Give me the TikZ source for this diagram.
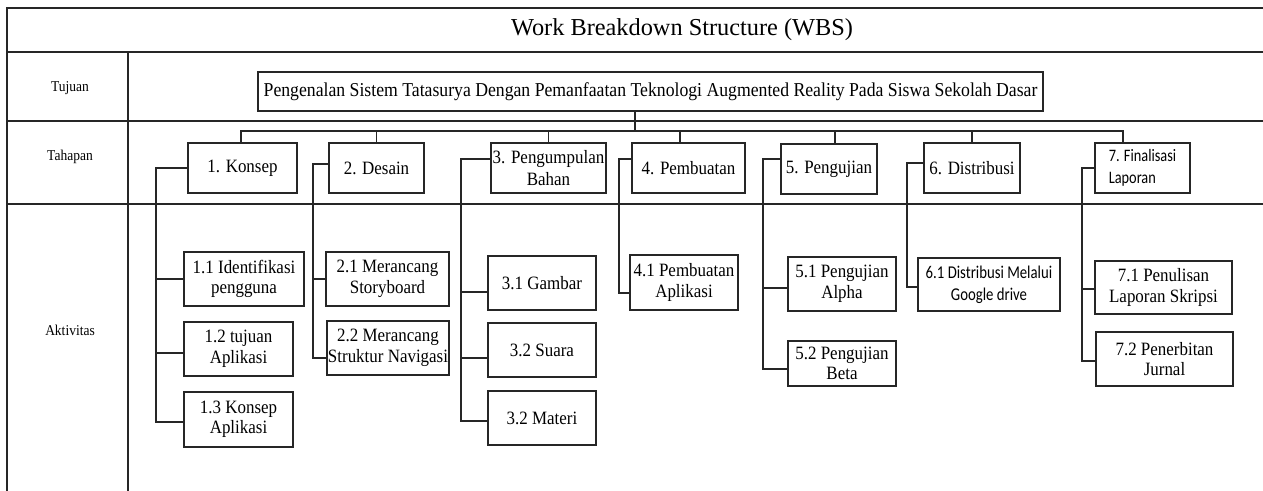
\documentclass[tikz,border=0pt]{standalone}
\usepackage{fontspec}
\setmainfont{Liberation Serif}
\newfontfamily\narrowserif[FakeStretch=0.9]{Liberation Serif}
\newfontfamily\narrowsans[FakeStretch=0.82]{Carlito}
\usetikzlibrary{positioning,calc}

\begin{document}
\begin{tikzpicture}[
  x=0.6pt, y=-0.6pt,
  grid/.style={line width=0.9pt, draw=black!85},
  box/.style 2 args={draw=black!85, line width=0.8pt, minimum width=#1*0.6pt, minimum height=#2*0.6pt, inner sep=0.5pt, align=center},
  phase/.style 2 args={box={#1}{#2}, font=\narrowserif\fontsize{11.3}{13}\selectfont},
  task/.style 2 args={box={#1}{#2}, font=\narrowserif\fontsize{11.3}{12.3}\selectfont},
  rowlabel/.style={font=\narrowserif\fontsize{9}{11}\selectfont},
  link/.style={line width=0.8pt, draw=black!85}
]
\useasboundingbox (0,0) rectangle (1263,491);

% tabel
\draw[grid] (1263,8) -- (7,8) -- (7,491);
\draw[grid] (7,52) -- (1263,52);
\draw[grid] (7,121) -- (1263,121);
\draw[grid] (7,204) -- (1263,204);
\draw[grid] (128,52) -- (128,491);

\node[font=\fontsize{14.6}{16}\selectfont] (title) at (682,30) {Work Breakdown Structure (WBS)};
\node[rowlabel] (lbltujuan) at (70,88) {Tujuan};
\node[rowlabel] (lbltahapan) at (70,157) {Tahapan};
\node[rowlabel] (lblaktivitas) at (70,330) {Aktivitas};

% tujuan
\node[box={785}{39}, font=\narrowserif\fontsize{11.8}{13}\selectfont] (goal) at (650.5,91.5) {Pengenalan Sistem Tatasurya Dengan Pemanfaatan Teknologi Augmented Reality Pada Siswa Sekolah Dasar};

% tahapan
\node[phase={109}{50}] (konsep) at (242.5,168) {1. Konsep};
\node[phase={95}{50}] (desain) at (376.5,168) {2. Desain};
\node[phase={115}{50}] (bahan) at (548.5,168) {3. Pengumpulan\\Bahan};
\node[phase={113}{50}] (pembuatan) at (688.5,168) {4. Pembuatan};
\node[phase={96}{50}] (pengujian) at (829,169) {5. Pengujian};
\node[phase={96}{50}] (distribusi) at (972,168) {6. Distribusi};
\node[phase={95}{50}, font=\narrowsans\fontsize{10.5}{12.8}\selectfont, align=left] (finalisasi) at (1142.5,168) {7. Finalisasi\\Laporan};

% aktivitas
\node[task={120}{54}] (identifikasi) at (244,279) {1.1 Identifikasi\\pengguna};
\node[task={109}{54}] (tujuanapp) at (238.5,349) {1.2 tujuan\\Aplikasi};
\node[task={109}{55}] (konsepapp) at (238.5,419.5) {1.3 Konsep\\Aplikasi};
\node[task={123}{54}] (storyboard) at (387.5,279) {2.1 Merancang\\Storyboard};
\node[task={122}{54}] (navigasi) at (388,348) {2.2 Merancang\\Struktur Navigasi};
\node[task={108}{54}] (gambar) at (542,283) {3.1 Gambar};
\node[task={108}{54}] (suara) at (542,350) {3.2 Suara};
\node[task={108}{54}] (materi) at (542,418) {3.2 Materi};
\node[task={108}{55}] (buatapp) at (684,282.5) {4.1 Pembuatan\\Aplikasi};
\node[task={108}{54}] (alpha) at (842,284) {5.1 Pengujian\\Alpha};
\node[task={108}{45}] (beta) at (842,363.5) {5.2 Pengujian\\Beta};
\node[task={142}{53}, font=\narrowsans\fontsize{10.8}{13}\selectfont] (gdrive) at (989,284.5) {6.1 Distribusi Melalui\\Google drive};
\node[task={137}{53}] (skripsi) at (1163.5,287.5) {7.1 Penulisan\\Laporan Skripsi};
\node[task={137}{54}] (jurnal) at (1164.5,359) {7.2 Penerbitan\\Jurnal};

% tujuan -> tahapan
\coordinate (bus) at (635,131);
\draw[link] (bus) -- (bus |- goal.south);
\draw[link] (konsep.north -| 241,0) |- (bus);
\draw[link] (desain.north) |- (bus);
\draw[link] (bahan.north) |- (bus);
\draw[link] (pembuatan.north -| 680,0) |- (bus);
\draw[link] (pengujian.north -| 835,0) |- (bus);
\draw[link] (distribusi.north) |- (bus);
\draw[link] (finalisasi.north -| 1123,0) |- (bus);

% tahapan -> aktivitas
\coordinate (s1) at (konsep.west -| 156,0);
\draw[link] (konsep.west) -- (s1) |- (identifikasi.west);
\draw[link] (s1) |- ([yshift=-2.4pt]tujuanapp.west);
\draw[link] (s1) |- ([yshift=-1.5pt]konsepapp.west);

\coordinate (s2) at ([yshift=2.4pt]desain.west -| 313,0);
\draw[link] ([yshift=2.4pt]desain.west) -- (s2) |- (storyboard.west);
\draw[link] (s2) |- ([yshift=-6pt]navigasi.west);

\coordinate (s3) at ([yshift=5.4pt]bahan.west -| 461,0);
\draw[link] ([yshift=5.4pt]bahan.west) -- (s3) |- ([yshift=-5.4pt]gambar.west);
\draw[link] (s3) |- ([yshift=-4.8pt]suara.west);
\draw[link] (s3) |- ([yshift=-1.8pt]materi.west);

\coordinate (s4) at ([yshift=5.4pt]pembuatan.west -| 619,0);
\draw[link] ([yshift=5.4pt]pembuatan.west) -- (s4) |- ([yshift=-6.3pt]buatapp.west);

\coordinate (s5) at ([yshift=6pt]pengujian.west -| 763,0);
\draw[link] ([yshift=6pt]pengujian.west) -- (s5) |- ([yshift=-2.4pt]alpha.west);
\draw[link] (s5) |- ([yshift=-3.3pt]beta.west);

\coordinate (s6) at ([yshift=3pt]distribusi.west -| 907,0);
\draw[link] ([yshift=3pt]distribusi.west) -- (s6) |- ([yshift=-1.5pt]gdrive.west);

\coordinate (s7) at (finalisasi.west -| 1082,0);
\draw[link] (finalisasi.west) -- (s7) |- ([yshift=-0.9pt]skripsi.west);
\draw[link] (s7) |- ([yshift=-1.2pt]jurnal.west);
\end{tikzpicture}
\end{document}
